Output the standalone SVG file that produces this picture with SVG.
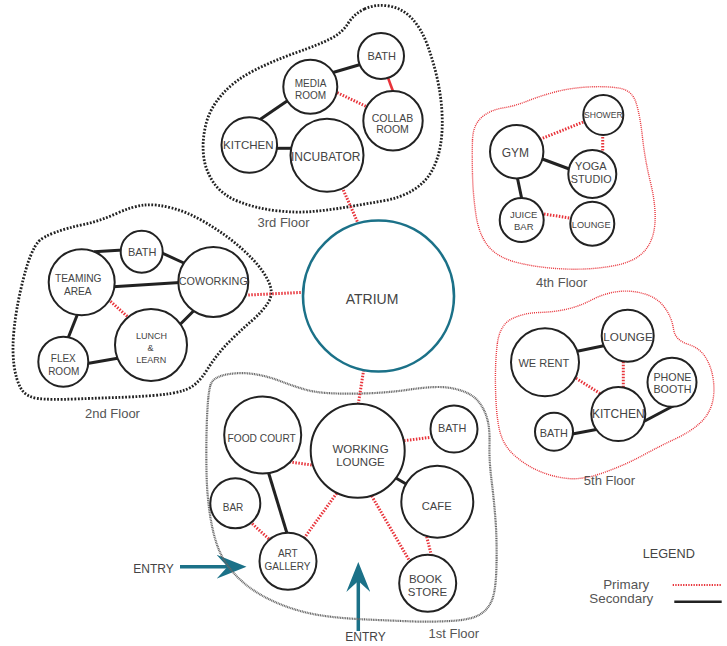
<svg xmlns="http://www.w3.org/2000/svg" width="727" height="646" viewBox="0 0 727 646">
<defs>
<style>
.t{font-family:"Liberation Sans",Arial,sans-serif;fill:#444;text-anchor:middle}
.fl{font-family:"Liberation Sans",Arial,sans-serif;fill:#555;text-anchor:middle;font-size:13px}
.n circle{fill:#fff;stroke:#222;stroke-width:2}
.atr{fill:#fff;stroke:#1b7188;stroke-width:2.6}
.pri{stroke:#e8333a;stroke-width:3;stroke-dasharray:1.5 1.5;fill:none}
.sec{stroke:#222;stroke-width:3;fill:none}
.bk{fill:none;stroke:#222;stroke-width:2.8;stroke-dasharray:1.8 1.6}
.gr{fill:none;stroke:#666;stroke-width:2.2;stroke-dasharray:1 0.7}
.rd{fill:none;stroke:#e8333a;stroke-width:1.4;stroke-dasharray:1 1}
.arr{stroke:#1b7188;stroke-width:3.5;fill:none}
</style>
<marker id="ah" viewBox="0 0 30 24" markerWidth="30" markerHeight="24" refX="11" refY="12" orient="auto" markerUnits="userSpaceOnUse">
<path d="M0,0 L30,12 L0,24 L11,12 Z" fill="#1b7188"/>
</marker>
</defs>
<rect width="727" height="646" fill="#fff"/>

<g id="entries">
<line class="arr" x1="180" y1="566.7" x2="227.5" y2="566.7" marker-end="url(#ah)"/>
<line class="arr" x1="358.3" y1="631" x2="358.3" y2="581" marker-end="url(#ah)"/>
<text class="t" x="153.5" y="573" font-size="12">ENTRY</text>
<text class="t" x="365.5" y="641" font-size="12">ENTRY</text>
</g>

<g id="floors">
<path class="bk" d="M364.5,9 Q375,4 388.5,6 Q402,8 411.5,18 Q421,28 427,44 Q433,60 437,77.5 Q441,95 442,112.5 Q443,130 440.5,145 Q438,160 431.5,171.5 Q425,183 412.5,190.5 Q400,198 382.5,201 Q365,204 347.5,207 Q330,210 312.5,211.5 Q295,213 275,210.5 Q255,208 238.5,201.5 Q222,195 213.5,182.5 Q205,170 203.5,155 Q202,140 206,124 Q210,108 222.5,94 Q235,80 255,70 Q275,60 296.5,52.5 Q318,45 330,39 Q342,33 348,23.5 Q354,14 364.5,9 Z"/>
<path class="bk" d="M39,241 Q43,237 55,232.5 Q67,228 83.5,224.5 Q100,221 116.5,213.5 Q133,206 145,205 Q157,204 172,208 Q187,212 202,220.5 Q217,229 230,239 Q243,249 253,259.5 Q263,270 268.5,281.5 Q274,293 268.5,302 Q263,311 251.5,321 Q240,331 228.5,342.5 Q217,354 207,370 Q197,386 185,390 Q173,394 153,395.5 Q133,397 116.5,397.5 Q100,398 75,399 Q50,400 38,398.5 Q26,397 21,388.5 Q16,380 14,365 Q12,350 14,330 Q16,310 21,288.5 Q26,267 30.5,256 Q35,245 39,241 Z"/>
<path class="rd" d="M472.5,140 Q473,125 481.5,117.5 Q490,110 502.5,108 Q515,106 527.5,101 Q540,96 555,92 Q570,88 587.5,87 Q605,86 618.5,88 Q632,90 636,102.5 Q640,115 642.5,137.5 Q645,160 650.5,182.5 Q656,205 655,222.5 Q654,240 644.5,251 Q635,262 612.5,266 Q590,270 565,269 Q540,268 519,263 Q498,258 488.5,246.5 Q479,235 476,215 Q473,195 472.5,175 Q472,155 472.5,140 Z"/>
<path class="rd" d="M497.5,342.5 Q500,325 511.5,319 Q523,313 539,312.5 Q555,312 567.5,309 Q580,306 592.5,299.5 Q605,293 618.5,291.5 Q632,290 645,294 Q658,298 665,308 Q672,318 673.5,329 Q675,340 687.5,344 Q700,348 706,358 Q712,368 713.5,381.5 Q715,395 711.5,405.5 Q708,416 699,424 Q690,432 675,439 Q660,446 642.5,455.5 Q625,465 604,472.5 Q583,480 568,478.5 Q553,477 539,471 Q525,465 514,455 Q503,445 499.5,430 Q496,415 495.5,387.5 Q495,360 497.5,342.5 Z"/>
<path class="gr" d="M210.5,385 Q213,377 226.5,374.5 Q240,372 253.5,374 Q267,376 280,381 Q293,386 305,389.5 Q317,393 337,393.5 Q357,394 375,393 Q393,392 410,389.5 Q427,387 438.5,387 Q450,387 461,390.5 Q472,394 478,401 Q484,408 487,418 Q490,428 489.5,444 Q489,460 491.5,480 Q494,500 495.5,520 Q497,540 496.5,565 Q496,590 492,600 Q488,610 479,615 Q470,620 450,621 Q430,622 415,621.5 Q400,621 366.5,619.5 Q333,618 313,614 Q293,610 275,602 Q257,594 244.5,583.5 Q232,573 224,560 Q216,547 211.5,523.5 Q207,500 206.5,471.5 Q206,443 207,418 Q208,393 210.5,385 Z"/>
<text class="fl" x="283.5" y="226.7">3rd Floor</text>
<text class="fl" x="112.5" y="418.3">2nd Floor</text>
<text class="fl" x="561.7" y="286.7">4th Floor</text>
<text class="fl" x="609.5" y="485">5th Floor</text>
<text class="fl" x="453.8" y="638.3">1st Floor</text>
</g>

<g id="connectors">
<line class="sec" x1="333" y1="72.5" x2="362" y2="64"/>
<line class="sec" x1="290" y1="99" x2="260" y2="119.5"/>
<line class="sec" x1="274" y1="148.3" x2="294" y2="148.3"/>
<line class="pri" x1="337.3" y1="92.7" x2="366.7" y2="106.7"/>
<line x1="387.7" y1="77" x2="393.3" y2="92" stroke="#e8333a" stroke-width="2.6"/>
<line class="pri" x1="343.3" y1="190" x2="357.5" y2="222"/>
<line class="sec" x1="94" y1="251.8" x2="123" y2="250"/>
<line class="sec" x1="160.5" y1="252.3" x2="186" y2="264"/>
<line class="sec" x1="113" y1="286.8" x2="180" y2="282.6"/>
<line class="pri" x1="108.3" y1="299.3" x2="128.3" y2="317.3"/>
<line class="sec" x1="194" y1="310.5" x2="180.5" y2="324"/>
<line class="sec" x1="78" y1="313" x2="67.5" y2="339.5"/>
<line class="sec" x1="86" y1="363.7" x2="119" y2="358"/>
<line class="pri" x1="248.3" y1="295" x2="304" y2="292.3"/>
<line class="pri" x1="540" y1="139.3" x2="584" y2="121.7"/>
<line class="pri" x1="602.7" y1="134" x2="602.7" y2="152"/>
<line class="sec" x1="541" y1="158.5" x2="572" y2="170"/>
<line class="sec" x1="517" y1="176" x2="522" y2="200"/>
<line class="pri" x1="544" y1="214" x2="571.7" y2="218.3"/>
<line class="sec" x1="576" y1="351.5" x2="605" y2="345.5"/>
<line class="pri" x1="623.3" y1="361.7" x2="623.3" y2="387.3"/>
<line class="pri" x1="576" y1="378.3" x2="601" y2="394"/>
<line class="sec" x1="571" y1="434.3" x2="599" y2="429"/>
<line class="sec" x1="641" y1="423" x2="675" y2="405"/>
<line class="pri" x1="358.3" y1="404" x2="363.5" y2="371"/>
<line class="pri" x1="311.7" y1="465" x2="288.3" y2="461.7"/>
<line class="pri" x1="404" y1="440.7" x2="430.7" y2="437.3"/>
<line class="sec" x1="395" y1="477.5" x2="407" y2="484.5"/>
<line class="pri" x1="336.7" y1="493.3" x2="304" y2="538.3"/>
<line class="pri" x1="371.7" y1="496" x2="410" y2="561.7"/>
<line class="sec" x1="268" y1="471" x2="287.5" y2="535"/>
<line class="pri" x1="250" y1="521.7" x2="270" y2="540"/>
<line class="pri" x1="426.7" y1="536.7" x2="431.7" y2="556.7"/>
</g>

<g id="atrium"><circle class="atr" cx="378.5" cy="296" r="75.5"/><text class="t" x="372" y="304" font-size="14">ATRIUM</text></g>

<g id="f3-bath" class="n"><circle cx="381" cy="56" r="23"/><text class="t" x="381.7" y="60" font-size="11">BATH</text></g>
<g id="f3-media" class="n"><circle cx="310.3" cy="86.7" r="27"/><text class="t" x="310.5" y="87.3" font-size="10">MEDIA</text><text class="t" x="310.5" y="99" font-size="10">ROOM</text></g>
<g id="f3-collab" class="n"><circle cx="393" cy="120.7" r="29.7"/><text class="t" x="392.5" y="121.7" font-size="10.5">COLLAB</text><text class="t" x="392.5" y="133.3" font-size="10.5">ROOM</text></g>
<g id="f3-kitchen" class="n"><circle cx="249.3" cy="145" r="27.8"/><text class="t" x="248.3" y="148.5" font-size="11.5">KITCHEN</text></g>
<g id="f3-incubator" class="n"><circle cx="327" cy="155.3" r="36.5"/><text class="t" x="325.7" y="160.5" font-size="12">INCUBATOR</text></g>

<g id="f2-bath" class="n"><circle cx="141.7" cy="251.7" r="21"/><text class="t" x="142.2" y="255.7" font-size="11">BATH</text></g>
<g id="f2-teaming" class="n"><circle cx="81.7" cy="282.3" r="33"/><text class="t" x="78.3" y="282.3" font-size="10.2">TEAMING</text><text class="t" x="77.8" y="295" font-size="10.2">AREA</text></g>
<g id="f2-coworking" class="n"><circle cx="213.3" cy="282" r="35"/><text class="t" x="213.3" y="285" font-size="10.8">COWORKING</text></g>
<g id="f2-lunch" class="n"><circle cx="151" cy="345" r="36"/><text class="t" x="151.5" y="339" font-size="9">LUNCH</text><text class="t" x="150.5" y="350.7" font-size="9">&amp;</text><text class="t" x="151.2" y="362.7" font-size="9">LEARN</text></g>
<g id="f2-flex" class="n"><circle cx="63.3" cy="361.7" r="25"/><text class="t" x="63.3" y="361.7" font-size="10">FLEX</text><text class="t" x="63.7" y="375" font-size="10">ROOM</text></g>

<g id="f4-shower" class="n"><circle cx="603.3" cy="115" r="20"/><text class="t" x="603.3" y="118.3" font-size="8.6">SHOWER</text></g>
<g id="f4-gym" class="n"><circle cx="516.7" cy="151.7" r="26.7"/><text class="t" x="515.3" y="156.7" font-size="12">GYM</text></g>
<g id="f4-yoga" class="n"><circle cx="592.3" cy="174" r="24"/><text class="t" x="590.8" y="170" font-size="11">YOGA</text><text class="t" x="591.2" y="182.7" font-size="10.8">STUDIO</text></g>
<g id="f4-juice" class="n"><circle cx="521.7" cy="220" r="22"/><text class="t" x="523.7" y="218.3" font-size="9.5">JUICE</text><text class="t" x="523.8" y="230" font-size="9.5">BAR</text></g>
<g id="f4-lounge" class="n"><circle cx="592.3" cy="223.7" r="22"/><text class="t" x="591.2" y="227.7" font-size="9.2">LOUNGE</text></g>

<g id="f5-lounge" class="n"><circle cx="627.7" cy="335.7" r="26"/><text class="t" x="628" y="340.7" font-size="11.7">LOUNGE</text></g>
<g id="f5-werent" class="n"><circle cx="545" cy="362.3" r="34"/><text class="t" x="543.8" y="366.7" font-size="11">WE RENT</text></g>
<g id="f5-phone" class="n"><circle cx="672" cy="382.3" r="24.5"/><text class="t" x="672.5" y="380.7" font-size="10.7">PHONE</text><text class="t" x="672.5" y="392.7" font-size="10.7">BOOTH</text></g>
<g id="f5-kitchen" class="n"><circle cx="618.3" cy="414" r="27"/><text class="t" x="618.3" y="418.3" font-size="12">KITCHEN</text></g>
<g id="f5-bath" class="n"><circle cx="554" cy="431.7" r="19"/><text class="t" x="553.8" y="436.7" font-size="10.9">BATH</text></g>

<g id="f1-food" class="n"><circle cx="262.7" cy="435" r="38.5"/><text class="t" x="261.7" y="442.3" font-size="10.2">FOOD COURT</text></g>
<g id="f1-working" class="n"><circle cx="357.7" cy="450.7" r="47"/><text class="t" x="360.5" y="452.7" font-size="11.5">WORKING</text><text class="t" x="360.5" y="466" font-size="11.5">LOUNGE</text></g>
<g id="f1-bath" class="n"><circle cx="454" cy="429" r="23.5"/><text class="t" x="452.2" y="431.7" font-size="10.9">BATH</text></g>
<g id="f1-cafe" class="n"><circle cx="437.3" cy="501.7" r="36"/><text class="t" x="436.7" y="510" font-size="11.2">CAFE</text></g>
<g id="f1-bar" class="n"><circle cx="235.3" cy="503.3" r="25"/><text class="t" x="233" y="510.7" font-size="10">BAR</text></g>
<g id="f1-art" class="n"><circle cx="288" cy="561.3" r="28.5"/><text class="t" x="287.8" y="556.7" font-size="10">ART</text><text class="t" x="287.5" y="570" font-size="10">GALLERY</text></g>
<g id="f1-book" class="n"><circle cx="427.7" cy="583.3" r="28.5"/><text class="t" x="425.5" y="582.7" font-size="11.5">BOOK</text><text class="t" x="427.5" y="595.7" font-size="11.5">STORE</text></g>

<g id="legend">
<text class="t" x="668.8" y="558.3" font-size="12.7">LEGEND</text>
<text class="fl" x="649.3" y="589" style="text-anchor:end;font-size:13.4px">Primary</text>
<text class="fl" x="653.3" y="603.3" style="text-anchor:end;font-size:13.4px">Secondary</text>
<line x1="672.7" y1="585" x2="721.7" y2="585" stroke="#e8333a" stroke-width="2.2" stroke-dasharray="1.3 1.3"/>
<line x1="674.3" y1="601.7" x2="721.7" y2="601.7" stroke="#222" stroke-width="2.6"/>
</g>
</svg>
